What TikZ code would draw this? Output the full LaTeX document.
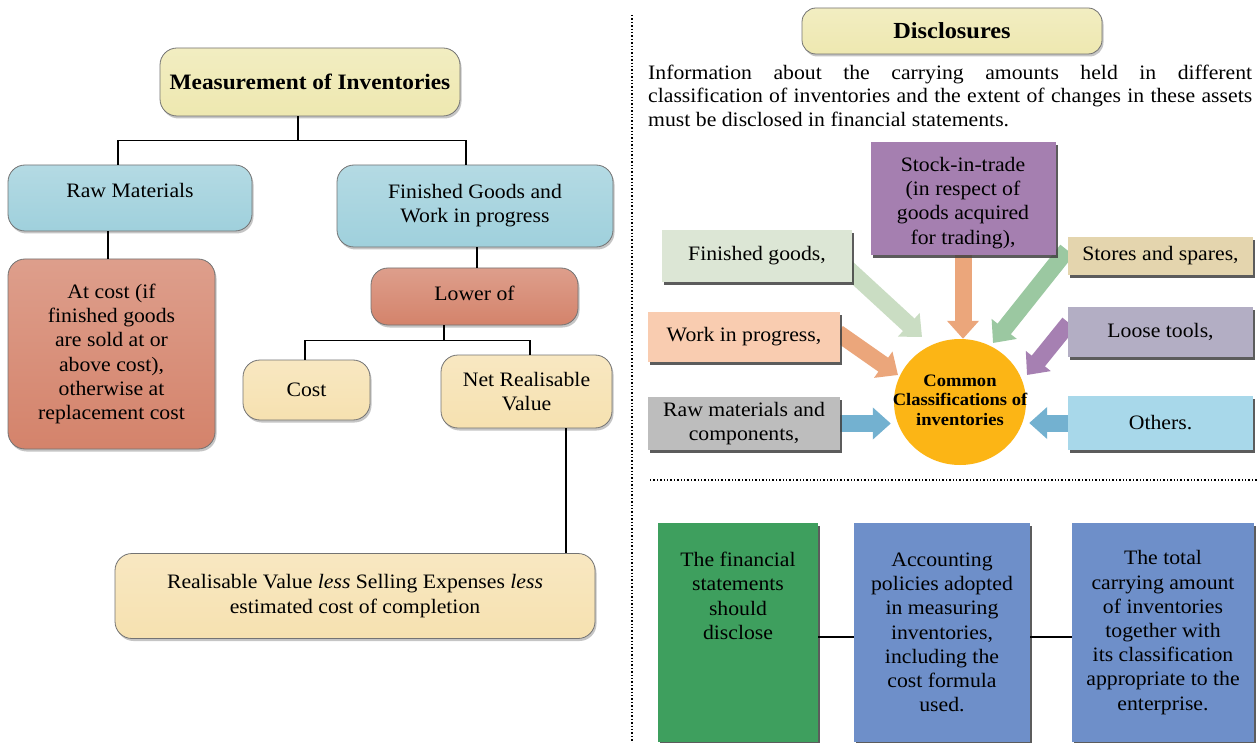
\documentclass[tikz,border=0pt]{standalone}
\usepackage{fontspec}
\setmainfont{Liberation Serif}[FakeStretch=1.06]
\usetikzlibrary{shadows,shapes.geometric,arrows.meta,calc,backgrounds}
\definecolor{yelc}{HTML}{EEE8B0}
\definecolor{bluec}{HTML}{9FD0DC}
\definecolor{salc}{HTML}{D4836B}
\definecolor{creamc}{HTML}{F6E1B0}
\definecolor{stockc}{HTML}{A57FB0}
\definecolor{fgdc}{HTML}{DCE6D5}
\definecolor{storec}{HTML}{E4D5AE}
\definecolor{wipc}{HTML}{F9CCB0}
\definecolor{loosec}{HTML}{B3AEC4}
\definecolor{rawcc}{HTML}{BDBDBD}
\definecolor{othc}{HTML}{A8D8EA}
\definecolor{circc}{HTML}{FCB515}
\definecolor{greenbox}{HTML}{3E9F5E}
\definecolor{bluebox}{HTML}{6E8FC9}
\definecolor{agone}{HTML}{CADDC3}
\definecolor{aor}{HTML}{EBA67B}
\definecolor{agtwo}{HTML}{9BC8A1}
\definecolor{apur}{HTML}{A680B2}
\definecolor{ablue}{HTML}{73B1D0}
\begin{document}
\begin{tikzpicture}[x=1pt,y=-1pt,
  txt/.style={font=\fontsize{20.5}{24.2}\selectfont},
  rbox/.style={draw=black!55, line width=0.8pt, rounded corners=17pt, align=center, inner sep=2pt,
    top color=#1!78!white, bottom color=#1, txt,
    drop shadow={shadow xshift=1.5pt,shadow yshift=-2.5pt,opacity=.45}},
  sbox/.style={fill=#1, align=center, inner sep=2pt, txt,
    drop shadow={shadow xshift=2pt,shadow yshift=-3pt,fill=black!75,opacity=.85}},
  tline/.style={line width=1.1pt},
  barrow/.style={line width=17pt, -{Triangle[width=31pt,length=18pt]}},
  dotline/.style={dotted, line width=1.4pt}]
\useasboundingbox (0,0) rectangle (1258,743);

% ---------------- left side ----------------
\node[rbox=yelc, minimum width=300pt, minimum height=68pt, font=\bfseries\fontsize{22}{26}\selectfont] (title) at (310,82) {Measurement of Inventories};
\node[rbox=bluec, minimum width=244pt, minimum height=66pt, text depth=16pt] (raw) at (130,198) {Raw Materials};
\node[rbox=bluec, minimum width=276pt, minimum height=82pt] (fg) at (475,206) {Finished Goods and\\Work in progress};
\node[rbox=salc, minimum width=207pt, minimum height=190pt] (atcost) at (111.5,354) {At cost (if\\finished goods\\are sold at or\\above cost),\\otherwise at\\replacement cost};
\node[rbox=salc, minimum width=207pt, minimum height=57pt, text depth=7pt] (lower) at (474.5,296.5) {Lower of};
\node[rbox=creamc, minimum width=127pt, minimum height=60pt] (cost) at (306.5,390) {Cost};
\node[rbox=creamc, minimum width=171pt, minimum height=73pt] (nrv) at (526.5,391.5) {Net Realisable\\Value};
\node[rbox=creamc, minimum width=480pt, minimum height=85pt] (real) at (355,596) {Realisable Value \emph{less} Selling Expenses \emph{less}\\estimated cost of completion};

\draw[tline] ($(title.south)+(-12,0)$) -- ++(0,24) coordinate (j1);
\draw[tline] ($(raw.north)+(-12,0)$) |- (j1) -| ($(fg.north)+(-9,0)$);
\draw[tline] ($(raw.south)+(-22,0)$) -- ($(atcost.north)+(-3.5,0)$);
\draw[tline] ($(fg.south)+(2,0)$) -- ($(lower.north)+(2.5,0)$);
\draw[tline] ($(lower.south)+(-30.5,0)$) -- ++(0,15) coordinate (j2);
\draw[tline] ($(cost.north)+(-1.5,0)$) |- (j2) -| ($(nrv.north)+(3.5,0)$);
\draw[tline] ($(nrv.south)+(39.5,0)$) -- ($(real.north)+(211,0)$);

% dividers
\draw[dotline] (632,15) -- (632,743);
\draw[dotline] (650,480) -- (1258,480);

% ---------------- right side ----------------
\node[rbox=yelc, rounded corners=14pt, minimum width=300pt, minimum height=46pt, font=\bfseries\fontsize{23}{26}\selectfont] (discl) at (952,31) {Disclosures};
\node[anchor=north west, text width=604pt, align=justify, inner sep=0pt, font=\fontsize{20.5}{23.3}\selectfont] (para) at (648,65)
  {Information about the carrying amounts held in different\linebreak classification of inventories and the extent of changes in these assets\linebreak must be disclosed in financial statements.};

\node[sbox=stockc, minimum width=185pt, minimum height=113pt] (stock) at (963,198.5) {};
\node[align=center, txt, inner sep=0pt] (stocktxt) at (963,203) {Stock-in-trade\\(in respect of\\goods acquired\\for trading),};
\node[sbox=fgdc, minimum width=190pt, minimum height=52pt] (fgd) at (757,256) {Finished goods,};
\node[sbox=storec, minimum width=185pt, minimum height=38pt] (stores) at (1160.5,256) {Stores and spares,};
\node[sbox=wipc, minimum width=192pt, minimum height=50pt] (wip) at (744,337) {Work in progress,};
\node[sbox=loosec, minimum width=185pt, minimum height=50pt] (loose) at (1160.5,332) {Loose tools,};
\node[sbox=rawcc, minimum width=192pt, minimum height=53pt] (rawc) at (744,423.5) {Raw materials and\\components,};
\node[sbox=othc, minimum width=185pt, minimum height=54pt] (others) at (1160.5,423) {Others.};

\node[ellipse, fill=circc, minimum width=132pt, minimum height=126pt, inner sep=0pt] (circ) at (960,402) {};
\node[align=center, font=\bfseries\fontsize{17.5}{19.5}\selectfont] (circtxt) at (960,400) {Common\\Classifications of\\inventories};

\coordinate (fgA) at (846,267);
\coordinate (fgT) at (922,337);
\coordinate (stA) at (1067,250);
\coordinate (stT) at (993,343);
\coordinate (wpA) at (838,333);
\coordinate (wpT) at (898,375);
\coordinate (ltA) at (1069,323);
\coordinate (ltT) at (1027,375);

\begin{scope}[on background layer]
\fill[white] (0,0) rectangle (1258,743);
\draw[barrow, agone] (fgA) -- (fgT);
\draw[barrow, aor] (stock.south) -- (stock.south |- circ.north);
\draw[barrow, agtwo] (stA) -- (stT);
\draw[barrow, aor] (wpA) -- (wpT);
\draw[barrow, apur] (ltA) -- (ltT);
\draw[barrow, ablue] (rawc.east) -- ($(rawc.east -| circ.west)+(-3,0)$);
\draw[barrow, ablue] (others.west) -- ($(others.west -| circ.east)+(3,0)$);
\end{scope}

% bottom boxes
\node[sbox=greenbox, minimum width=160pt, minimum height=219pt] (green) at (738,632.5) {};
\node[anchor=north, align=center, txt, inner sep=0pt] (greentxt) at (738,552) {The financial\\statements\\should\\disclose};
\node[sbox=bluebox, minimum width=176pt, minimum height=219pt] (blueone) at (942,632.5) {Accounting\\policies adopted\\in measuring\\inventories,\\including the\\cost formula\\used.};
\node[sbox=bluebox, minimum width=182pt, minimum height=219pt] (bluetwo) at (1163,632.5) {The total\\carrying amount\\of inventories\\together with\\its classification\\appropriate to the\\enterprise.};
\draw[tline] ($(green.east)+(0,4.5)$) -- ($(blueone.west)+(0,4.5)$);
\draw[tline] ($(blueone.east)+(0,4.5)$) -- ($(bluetwo.west)+(0,4.5)$);
\end{tikzpicture}
\end{document}
